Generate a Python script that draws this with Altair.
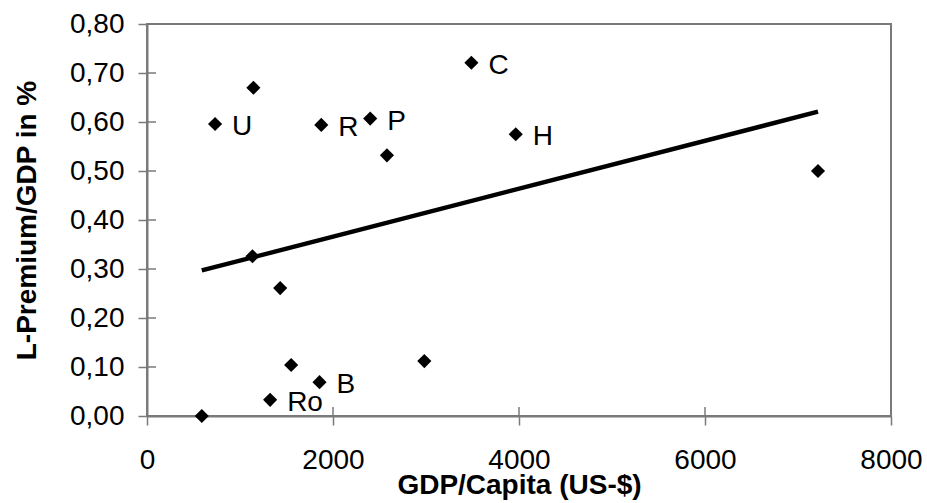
import altair as alt
import pandas as pd

# data
gdp = [589, 732, 1144, 1874, 2400, 2580, 3488, 3965, 7215, 1134, 1432, 1550, 1855, 1324, 2982]
prem = [0.000, 0.596, 0.670, 0.594, 0.607, 0.532, 0.721, 0.575, 0.500, 0.326, 0.261, 0.104, 0.069, 0.033, 0.112]
labels = ["", "U", "", "R", "P", "", "C", "H", "", "", "", "", "B", "Ro", ""]
x_ticks = [0, 2000, 4000, 6000, 8000]
y_ticks = [0.0, 0.1, 0.2, 0.3, 0.4, 0.5, 0.6, 0.7, 0.8]

df = pd.DataFrame({"gdp": gdp, "prem": prem, "label": labels})
xt = pd.DataFrame({"gdp": x_ticks})
yt = pd.DataFrame({"prem": y_ticks})

FONT = "Liberation Sans"
W, H = 744, 392
AX = "#7a7a7a"
xs = alt.Scale(domain=[0, 8000], nice=False, zero=False)
ys = alt.Scale(domain=[0, 0.8], nice=False, zero=False)

x_axis = alt.Axis(
    values=x_ticks, title="GDP/Capita (US-$)", format="d",
    labelFont=FONT, labelFontSize=28, labelColor="black", labelPadding=21,
    labelFlush=False, labelOverlap=False,
    titleFont=FONT, titleFontSize=28, titleFontWeight="bold", titleColor="black",
    titlePadding=-3, tickSize=9, tickColor=AX, tickWidth=1.5,
    domainColor=AX, domainWidth=2, grid=False,
)
y_axis = alt.Axis(
    values=y_ticks, title="L-Premium/GDP in %",
    labelExpr="replace(format(datum.value, '.2f'), '.', ',')",
    labelFont=FONT, labelFontSize=28, labelColor="black", labelPadding=14,
    labelBaseline="middle",
    titleFont=FONT, titleFontSize=28, titleFontWeight="bold", titleColor="black",
    titlePadding=28, tickSize=9, tickColor=AX, tickWidth=1.5,
    domainColor=AX, domainWidth=2, grid=False,
)

X = alt.X("gdp:Q", scale=xs, axis=x_axis)
Y = alt.Y("prem:Q", scale=ys, axis=y_axis)

points = alt.Chart(df).mark_point(
    shape="diamond", filled=True, size=200, color="black", opacity=1
).encode(x=X, y=Y)

trend = alt.Chart(df).transform_regression("gdp", "prem").mark_line(
    color="black", strokeWidth=4.5
).encode(x=X, y=Y)

text = alt.Chart(df).mark_text(
    align="left", baseline="middle", dx=17, dy=3, fontSize=28, font=FONT, color="black"
).encode(x=X, y=Y, text="label:N")

# inner half of the crossing tick marks
ytick_in = alt.Chart(yt).mark_rule(color=AX, strokeWidth=1.5).encode(
    y=Y, x=alt.value(0), x2=alt.value(9),
)
xtick_in = alt.Chart(xt).mark_rule(color=AX, strokeWidth=1.5).encode(
    x=X, y=alt.value(H - 9), y2=alt.value(H),
)

chart = alt.layer(points, trend, text, ytick_in, xtick_in).properties(
    width=W, height=H,
    autosize=alt.AutoSizeParams(type="none"),
    padding={"left": 147, "top": 24, "right": 36, "bottom": 87},
    background="white",
).configure_view(stroke=AX, strokeWidth=2)

chart.save("out.html", embed_options={"renderer": "svg", "actions": False})
